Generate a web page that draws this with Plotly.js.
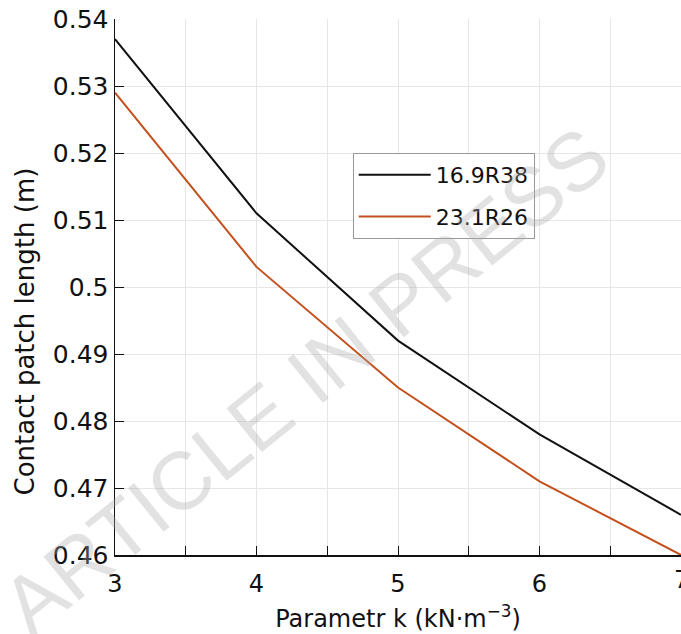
<!DOCTYPE html>
<html><head><meta charset="utf-8">
<script src="https://cdn.plot.ly/plotly-3.0.1.min.js"></script>
<style>html,body{margin:0;padding:0;background:#fff}</style>
</head><body>
<div id="chart" style="width:681px;height:634px"></div>
<script>
const k = [3, 4, 5, 6, 7];
const kTickVals = [3, 4, 5, 6, 7];
const tyre1Name = '16.9R38';
const tyre1 = [0.537, 0.511, 0.492, 0.478, 0.466];
const tyre2Name = '23.1R26';
const tyre2 = [0.529, 0.503, 0.485, 0.471, 0.460];
const xTitle = 'Parametr k (kN·m<sup>−3</sup>)';
const yTitle = 'Contact patch length (m)';

const font = 'DejaVu Sans, sans-serif';
const traces = [
  {x: k, y: tyre1, name: tyre1Name, legendgroup: 'a', mode: 'lines', line: {color: '#111111', width: 2}, cliponaxis: false},
  {x: k, y: tyre2, name: tyre2Name, legendgroup: 'b', mode: 'lines', line: {color: '#c4501e', width: 2}, cliponaxis: false}
];
const layout = {
  width: 681, height: 634,
  margin: {l: 115, r: 0, t: 19, b: 79},
  paper_bgcolor: '#fff', plot_bgcolor: '#fff',
  font: {family: font, color: '#111', size: 20},
  showlegend: true,
  legend: {x: 0.42, y: 0.75, xanchor: 'left', yanchor: 'top', bordercolor: '#999', borderwidth: 1,
           bgcolor: '#fff', font: {size: 22, family: font}, tracegroupgap: 10, itemwidth: 72},
  xaxis: {range: [3, 7], tickvals: kTickVals, showline: true, linecolor: '#111', linewidth: 1.5,
          ticks: 'inside', ticklen: 9, tickcolor: '#111', showgrid: true, gridcolor: '#e6e6e6',
          zeroline: false, tickfont: {size: 24}, ticklabelstandoff: 7,
          minor: {dtick: 0.5, ticks: 'inside', ticklen: 9, tickcolor: '#111', showgrid: true, gridcolor: '#e6e6e6'},
          title: {text: xTitle, font: {size: 24}, standoff: 13}},
  yaxis: {range: [0.46, 0.54], dtick: 0.01, tick0: 0.46, showline: true, linecolor: '#111', linewidth: 1.5,
          ticks: 'inside', ticklen: 9, tickcolor: '#111', showgrid: true, gridcolor: '#e6e6e6',
          zeroline: false, tickfont: {size: 25}, ticklabelstandoff: 0},
  annotations: [
    {text: yTitle, xref: 'paper', yref: 'paper', x: -0.159, y: 0.417, xanchor: 'center', yanchor: 'middle',
     textangle: -90, showarrow: false, font: {size: 26, family: font, color: '#111'}},
    {text: '7', xref: 'x', yref: 'paper', x: 7, y: 0, yanchor: 'top', yshift: -9, showarrow: false,
     font: {size: 24, family: font, color: '#111'}},
    {text: 'ARTICLE IN PRESS', xref: 'paper', yref: 'paper', x: 0.336, y: 0.325,
     xanchor: 'center', yanchor: 'middle',
     showarrow: false, textangle: -39,
     font: {family: 'Liberation Sans, Arial, sans-serif', size: 82, color: 'rgba(170,170,170,0.34)'}}
  ]
};
Plotly.newPlot('chart', traces, layout, {displayModeBar: false, staticPlot: true});
</script>
</body></html>
